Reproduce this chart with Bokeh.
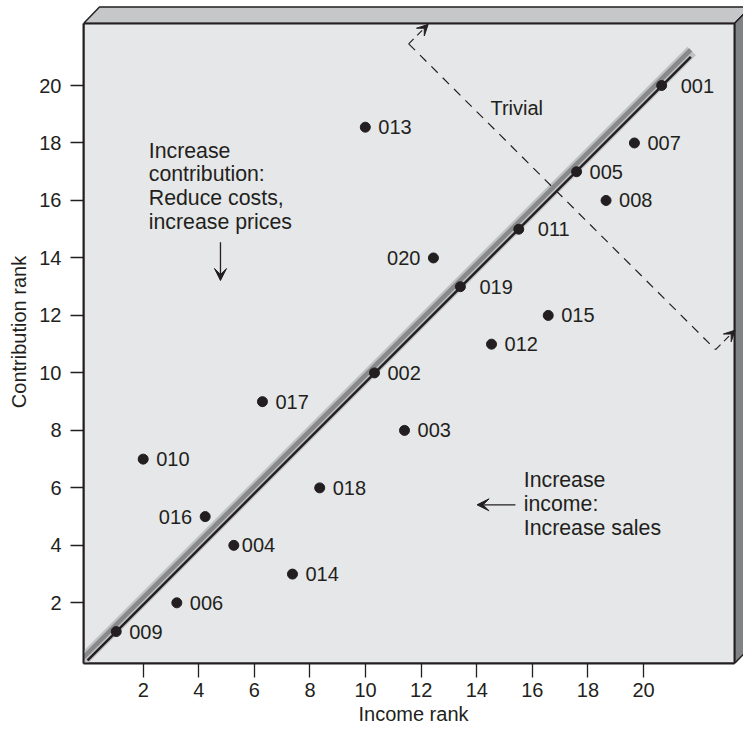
from bokeh.plotting import figure
from bokeh.models import FixedTicker, Range1d, Arrow, VeeHead, ColumnDataSource
from bokeh.embed import file_html
from bokeh.resources import INLINE
from bokeh.core.properties import value

# ---------------- data ----------------
codes = ["001", "007", "005", "008", "011", "013", "020", "019", "015", "012",
         "002", "017", "003", "010", "018", "016", "004", "014", "006", "009"]
income_rank = [20.65, 19.67, 17.59, 18.65, 15.51, 9.99, 12.44, 13.41, 16.57, 14.53,
               10.32, 6.29, 11.40, 2.00, 8.35, 4.23, 5.26, 7.37, 3.21, 1.03]
contribution_rank = [20, 18, 17, 16, 15, 18.55, 14, 13, 12, 11,
                     10, 9, 8, 7, 6, 5, 4, 3, 2, 1]
x_ticks = [2, 4, 6, 8, 10, 12, 14, 16, 18, 20]
y_ticks = [2, 4, 6, 8, 10, 12, 14, 16, 18, 20]
diag_x = [0, 21.7]
diag_y = [0, 21.0]
trivial_x = [11.55, 22.59]
trivial_y = [21.45, 10.81]
text_upper = ["Increase", "contribution:", "Reduce costs,", "increase prices"]
text_lower = ["Increase", "income:", "Increase sales"]

# ---------------- styling ----------------
FONT = "Liberation Sans"
FS = "20px"
FS_BLOCK = "21.3px"
INK = "#231f20"
FACE = "#e6e7e8"
TOPB = "#c6c7c9"
SIDEB = "#808285"
left_labels = {"016", "020"}
wide_offset = {"001", "011", "019"}
narrow_offset = {"004"}

X0 = -0.147
Y0 = -0.111
FW, FH = 660, 663
PX_X, PX_Y = 27.8, 28.74
X1 = X0 + FW / PX_X
Y1 = Y0 + FH / PX_Y
FACE_R = X0 + 651 / PX_X
FACE_T = Y0 + 640 / PX_Y
BX, BY = 16 / PX_X, 16.5 / PX_Y
TEXT_SHIFT = 8 / PX_Y

p = figure(width=743, height=735, x_range=Range1d(X0, X1), y_range=Range1d(Y0, Y1),
           output_backend="svg", toolbar_location=None,
           min_border_left=83, min_border_right=0, min_border_top=0, min_border_bottom=72)
p.background_fill_color = "white"
p.border_fill_color = "white"
p.outline_line_color = None
p.grid.visible = False

# 3-D box
p.patch([X0, X0 + BX, FACE_R + BX, FACE_R], [FACE_T, FACE_T + BY, FACE_T + BY, FACE_T],
        fill_color=TOPB, line_color=INK, line_width=1.5)
p.patch([FACE_R, FACE_R + BX, FACE_R + BX, FACE_R], [FACE_T, FACE_T + BY, Y0 + BY, Y0],
        fill_color=SIDEB, line_color=INK, line_width=1.5)
p.quad(left=[X0], right=[FACE_R], bottom=[Y0], top=[FACE_T],
       fill_color=FACE, line_color=INK, line_width=2)

# diagonal band
def perp(d):
    return (-d * 0.7071 / PX_X, d * 0.7071 / PX_Y)

ext = 0.12
slope = diag_y[1] / diag_x[1]
bx0, by0 = diag_x[0] - 1.0, diag_y[0] - 1.0 * slope
bx1, by1 = diag_x[1] + ext, diag_y[1] + ext * slope
ox, oy = perp(3.5)
p.line([bx0 + ox, bx1 + ox], [by0 + oy, by1 + oy], line_color="#c0c1c3", line_width=12)
ox, oy = perp(5.0)
p.line([bx0 + ox, bx1 + ox], [by0 + oy, by1 + oy], line_color="#88898b", line_width=4.5)
p.line(diag_x, diag_y, line_color=INK, line_width=2.5)

# trivial boundary
p.line(trivial_x, trivial_y, line_color=INK, line_width=1.2, line_dash="9 7")
for (xs, ys) in [(trivial_x[0], trivial_y[0]), (trivial_x[1], trivial_y[1])]:
    dx, dy = 19.5 / PX_X, 19.5 / PX_Y
    p.add_layout(Arrow(x_start=xs, y_start=ys, x_end=xs + dx, y_end=ys + dy,
                       line_color=INK, line_width=1.2, line_dash="7 5",
                       end=VeeHead(size=11, fill_color=INK, line_color=INK, line_width=1)))

# points
p.scatter(income_rank, contribution_rank, size=10, color=INK)

rx, ry, rt, rdx = [], [], [], []
lx, ly, lt = [], [], []
for c, x, y in zip(codes, income_rank, contribution_rank):
    if c in left_labels:
        lx.append(x); ly.append(y); lt.append(c)
    else:
        rx.append(x); ry.append(y); rt.append(c)
        rdx.append(19 if c in wide_offset else (8 if c in narrow_offset else 13))
p.text(x="x", y="y", text="t", x_offset="dx",
       source=ColumnDataSource(dict(x=rx, y=ry, t=rt, dx=rdx)),
       text_font=value(FONT), text_font_size=FS, text_color=INK,
       text_align="left", text_baseline="middle")
p.text(lx, ly, text=lt, x_offset=-13, text_font=value(FONT), text_font_size=FS,
       text_color=INK, text_align="right", text_baseline="middle")

# annotation texts
def block(lines, x, y, spacing_px, fs):
    ys = [y + TEXT_SHIFT - i * spacing_px / PX_Y for i in range(len(lines))]
    p.text([x] * len(lines), ys, text=lines, text_font=value(FONT), text_font_size=fs,
           text_color=INK, text_align="left", text_baseline="alphabetic")

block(["Trivial"], 14.49, 18.95, 0, FS)
block(text_upper, 2.20, 17.45, 23.7, FS_BLOCK)
block(text_lower, 15.69, 6.00, 24.2, FS_BLOCK)

p.add_layout(Arrow(x_start=4.78, y_start=14.55, x_end=4.78, y_end=13.215,
                   line_color=INK, line_width=1.3,
                   end=VeeHead(size=12, fill_color=INK, line_color=INK, line_width=1)))
p.add_layout(Arrow(x_start=15.39, y_start=5.41, x_end=14.01, y_end=5.41,
                   line_color=INK, line_width=1.3,
                   end=VeeHead(size=12, fill_color=INK, line_color=INK, line_width=1)))

# axes
for ax in (p.xaxis[0], p.yaxis[0]):
    ax.minor_tick_line_color = None
    ax.major_tick_in = 0
    ax.major_tick_line_color = INK
    ax.major_tick_line_width = 1.3
    ax.axis_line_color = INK
    ax.axis_line_width = 2
    ax.major_label_text_font = FONT
    ax.major_label_text_font_size = FS
    ax.major_label_text_color = INK
    ax.axis_label_text_font = FONT
    ax.axis_label_text_font_size = FS
    ax.axis_label_text_font_style = "normal"
    ax.axis_label_text_color = INK

p.xaxis[0].ticker = FixedTicker(ticks=x_ticks)
p.yaxis[0].ticker = FixedTicker(ticks=y_ticks)
p.xaxis[0].bounds = (X0, FACE_R)
p.yaxis[0].bounds = (Y0, FACE_T)
p.xaxis[0].major_tick_out = 14
p.yaxis[0].major_tick_out = 13
p.xaxis[0].major_label_standoff = 5
p.yaxis[0].major_label_standoff = 9
p.xaxis[0].axis_label = "Income rank"
p.yaxis[0].axis_label = "Contribution rank"
p.xaxis[0].axis_label_standoff = 3
p.yaxis[0].axis_label_standoff = 6

open("out.html", "w").write(file_html(p, INLINE))
